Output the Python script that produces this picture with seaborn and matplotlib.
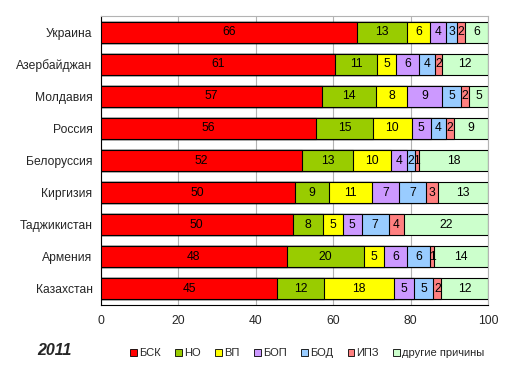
import pandas as pd
import matplotlib.pyplot as plt
import seaborn as sns
from matplotlib.patches import Patch

# данные: доли причин смерти (%), 2011
countries = ['Украина', 'Азербайджан', 'Молдавия', 'Россия', 'Белоруссия',
             'Киргизия', 'Таджикистан', 'Армения', 'Казахстан']
causes = ['БСК', 'НО', 'ВП', 'БОП', 'БОД', 'ИПЗ', 'другие причины']
bsk = [66, 61, 57, 56, 52, 50, 50, 48, 45]
no = [13, 11, 14, 15, 13, 9, 8, 20, 12]
vp = [6, 5, 8, 10, 10, 11, 5, 5, 18]
bop = [4, 6, 9, 5, 4, 7, 5, 6, 5]
bod = [3, 4, 5, 4, 2, 7, 7, 6, 5]
ipz = [2, 2, 2, 2, 1, 3, 4, 1, 2]
other = [6, 12, 5, 9, 18, 13, 22, 14, 12]
colors = ['#FF0000', '#99CC00', '#FFFF00', '#CC99FF', '#99CCFF', '#FF8080', '#CCFFCC']

df = pd.DataFrame({'country': countries, 'БСК': bsk, 'НО': no, 'ВП': vp,
                   'БОП': bop, 'БОД': bod, 'ИПЗ': ipz, 'другие причины': other})
# 100% stacked: нормируем каждую строку
pct = df[causes].div(df[causes].sum(axis=1), axis=0) * 100
cum = pct.cumsum(axis=1)

sns.set_style('white')
plt.rcParams['font.family'] = ['Liberation Sans', 'DejaVu Sans']

fig = plt.figure(figsize=(5.15, 3.76), dpi=100)
ax = fig.add_axes([0.196, 0.189, 0.752, 0.768])

# рисуем накопленные суммы от большего к меньшему
for cause, col in reversed(list(zip(causes, colors))):
    sns.barplot(x=cum[cause], y=df['country'], orient='h', color=col,
                saturation=1, width=0.65, edgecolor='black', linewidth=0.8,
                ax=ax, zorder=3)

# подписи значений
for i in range(len(countries)):
    left = 0
    for cause in causes:
        w = pct.loc[i, cause]
        ax.text(left + w / 2, i, str(df.loc[i, cause]), ha='center', va='center',
                fontsize=8.7, color='black', zorder=4)
        left += w

ax.set_xlim(0, 100)
ax.set_xticks([0, 20, 40, 60, 80, 100])
ax.xaxis.grid(True, color='#b3b3b3', linewidth=0.8, zorder=0)
ax.set_axisbelow(True)
ax.set_xlabel('')
ax.set_ylabel('')
ax.tick_params(axis='both', length=0, labelsize=8.7)
ax.tick_params(axis='y', pad=6)
ax.tick_params(axis='x', pad=7)
for s in ['top', 'right']:
    ax.spines[s].set_color('#b3b3b3')
    ax.spines[s].set_linewidth(0.8)
for s in ['left', 'bottom']:
    ax.spines[s].set_color('black')
    ax.spines[s].set_linewidth(0.8)

fig.text(0.073, 0.069, '2011', fontsize=11.5, fontweight='bold', fontstyle='italic',
         va='center')

handles = [Patch(facecolor=c, edgecolor='black', linewidth=0.6, label=l)
           for l, c in zip(causes, colors)]
fig.legend(handles=handles, loc='center', bbox_to_anchor=(0.597, 0.061), ncol=7,
           frameon=False, fontsize=8, handlelength=0.6, handleheight=0.6,
           handletextpad=0.2, columnspacing=1.3, borderpad=0)

fig.savefig('out.png', dpi=100)
